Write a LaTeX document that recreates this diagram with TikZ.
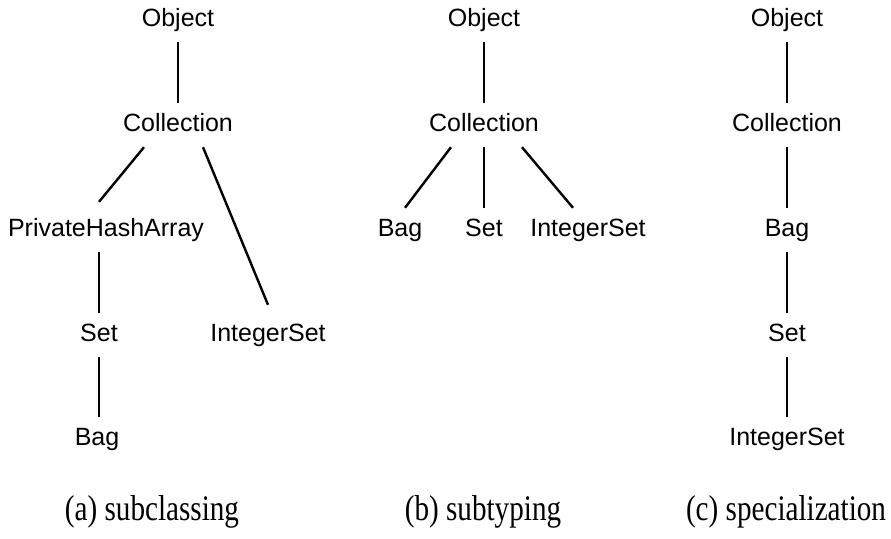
\documentclass[tikz,border=0pt]{standalone}
\usepackage{fontspec}
\setmainfont{Liberation Serif}
\newfontfamily\clsfont{Liberation Sans}
\newfontfamily\capfont[FakeStretch=0.81]{Liberation Serif}

\begin{document}
\begin{tikzpicture}[x=1pt, y=-1pt, line width=2.4pt,
	cls/.style={font=\clsfont\fontsize{25}{30}\selectfont, inner sep=0pt, minimum height=42pt, text height=18pt, text depth=5pt},
	capt/.style={font=\capfont\fontsize{36}{40}\selectfont, inner sep=0pt}]
				\useasboundingbox (0,0) rectangle (891,538);

				\node[cls] (objA) at (178,20) {Object};
				\node[cls] (collA) at (178,125) {Collection};
				\node[cls] (phaA) at (106,230) {PrivateHashArray};
				\node[cls] (setA) at (99,335) {Set};
				\node[cls] (intA) at (268,335) {IntegerSet};
				\node[cls] (bagA) at (97,439) {Bag};
				\node[capt] (capA) at (152,512) {(a) subclassing};

				\draw (objA) -- (collA);
				\draw ([xshift=-34pt]collA.south) -- ([xshift=-7pt, yshift=6pt]phaA.north);
				\draw ([xshift=25pt]collA.south) -- ([yshift=8pt]intA.north);
				\draw (setA.north |- phaA.south) -- (setA.north);
				\draw (setA.south) -- (setA.south |- bagA.north);

				\node[cls] (objB) at (484,20) {Object};
				\node[cls] (collB) at (484,125) {Collection};
				\node[cls] (bagB) at (400,230) {Bag};
				\node[cls] (setB) at (484,230) {Set};
				\node[cls] (intB) at (588,230) {IntegerSet};
				\node[capt] (capB) at (483,512) {(b) subtyping};

				\draw (objB) -- (collB);
				\draw ([xshift=-33pt]collB.south) -- ([xshift=5pt]bagB.north);
				\draw (collB) -- (setB);
				\draw ([xshift=38pt]collB.south) -- ([xshift=-15pt]intB.north);

				\node[cls] (objC) at (787,20) {Object};
				\node[cls] (collC) at (787,125) {Collection};
				\node[cls] (bagC) at (787,230) {Bag};
				\node[cls] (setC) at (787,335) {Set};
				\node[cls] (intC) at (787,439) {IntegerSet};
				\node[capt] (capC) at (786,512) {(c) specialization};

				\draw (objC) -- (collC);
				\draw (collC) -- (bagC);
				\draw (bagC) -- (setC);
				\draw (setC) -- (intC);

			\end{tikzpicture}
\end{document}
